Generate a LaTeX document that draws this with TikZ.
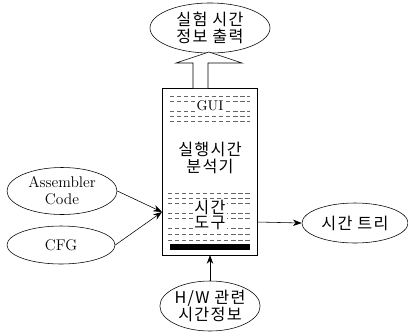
\documentclass[tikz,border=0pt]{standalone}
\usepackage{fontspec}
\usepackage{tikz}
\usetikzlibrary{calc,arrows.meta,positioning,shapes.geometric}
\newfontfamily\kr[LetterSpace=8]{Noto Sans CJK KR}
\tikzset{
  ar/.style={-{Stealth[length=2.2mm,width=1.6mm]},thin,black},
  oval/.style={draw,thin,ellipse,inner sep=0pt,align=center},
  krt/.style={font=\kr\fontsize{11.5}{14}\selectfont,align=center},
  ent/.style={font=\fontsize{11}{12}\selectfont},
  hatch/.style={densely dashed,gray!80!black,line width=0.5pt}
}
\begin{document}
\begin{tikzpicture}[x=0.025cm,y=-0.025cm]
\useasboundingbox (0,0) rectangle (408,331);
% analyser box
\draw[thin] (162,88) rectangle (257,255);
\coordinate (boxL) at (162,212);
\coordinate (boxR) at (257,222);
\coordinate (boxB) at (210,255);
\coordinate (boxT) at (193,88);
% hatching of the GUI and tool areas
\foreach \y in {96,101,111,116,121}
  \draw[hatch] (170,\y) -- (250,\y);
\foreach \y in {193,198,203,213,218,228,234,240}
  \draw[hatch] (168,\y) -- (252,\y);
\fill[black] (170,244) rectangle (250,250);
\node[font=\fontsize{10}{11}\selectfont,fill=white,inner sep=1pt] (gui) at (210,106) {GUI};
\node[krt] (ana) at (210,158) {실행시간\\[-2pt]분석기};
\node[krt,fill=white,inner sep=1pt] (tool) at (210,215) {시간\\[-3pt]도구};
% ellipses
\node[oval,krt,minimum width=3cm,minimum height=1.25cm] (out) at (210,28) {실험 시간\\[-2pt]정보 출력};
\node[oval,ent,minimum width=2.75cm,minimum height=1.175cm] (asm) at (62,191) {Assembler\\Code};
\node[oval,ent,minimum width=2.7cm,minimum height=0.95cm] (cfg) at (61,245) {CFG};
\node[oval,krt,minimum width=2.65cm,minimum height=1cm] (tree) at (355,223) {시간 트리};
\node[oval,krt,minimum width=2.3cm,minimum height=1.25cm] (hw) at (210,306) {H/W 관련\\[-2pt]시간정보};
% connectors
\draw[ar] (asm.east) -- (boxL);
\draw[ar] (cfg.east) -- (boxL);
\draw[ar] (boxR) -- (tree.west);
\draw[ar] (hw.north) -- (boxB);
% hollow output arrow
\draw[thin,fill=white] (boxT) -- ++(0,-25) -- ++(-17,0) -- (209,52) -- (242,63) -- (208,63) -- (208,88);
\end{tikzpicture}
\end{document}
